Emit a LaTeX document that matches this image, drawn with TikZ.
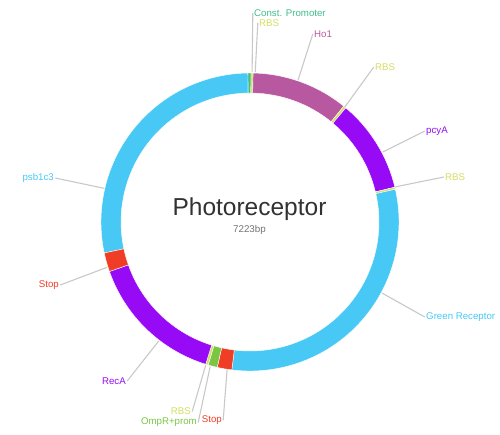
\documentclass[tikz,border=0pt]{standalone}
\usepackage{fontspec}
\setmainfont{Liberation Sans}
\usetikzlibrary{calc}
\definecolor{bbblue}{RGB}{71,200,245}
\definecolor{hopink}{RGB}{184,88,160}
\definecolor{genviolet}{RGB}{150,10,245}
\definecolor{stopred}{RGB}{240,62,38}
\definecolor{ompgreen}{RGB}{122,198,68}
\definecolor{proteal}{RGB}{64,190,140}
\definecolor{rbsyellow}{RGB}{212,222,96}
\definecolor{leadgray}{RGB}{200,200,200}
\definecolor{titlegray}{RGB}{50,50,50}
\def\rout{149}
\def\rin{129}
\def\ringseg[#1](#2:#3){\draw[#1] ($(ctr)+({#2-90}:\rout)$) arc[start angle={#2-90}, end angle={#3-90}, radius=\rout] -- ($(ctr)+({#3-90}:\rin)$) arc[start angle={#3-90}, end angle={#2-90}, radius=\rin] -- cycle;}
\tikzset{
  seg/.style={draw=white, line width=0.4pt},
  leader/.style={draw=leadgray, line width=1.1pt},
  lbl/.style={inner sep=1.2pt, font=\fontsize{9.7}{11}\selectfont}
}

\begin{document}
\begin{tikzpicture}[x=1pt, y=-1pt]
		%%%%% START %%%%%
		\useasboundingbox (0,0) rectangle (500,434);
		\coordinate (ctr) at (250,222);
		
		% ring
		\ringseg[seg, fill=bbblue](258:359.2)
		\ringseg[seg, fill=proteal](359.2:360.4)
		\ringseg[seg, fill=rbsyellow](0.4:1.2)
		\ringseg[seg, fill=hopink](1.2:39)
		\ringseg[seg, fill=rbsyellow](39:40)
		\ringseg[seg, fill=genviolet](40:76.5)
		\ringseg[seg, fill=rbsyellow](76.5:77.3)
		\ringseg[seg, fill=bbblue](77.3:187)
		\ringseg[seg, fill=stopred](187:192.7)
		\ringseg[seg, fill=ompgreen](192.7:196.3)
		\ringseg[seg, fill=rbsyellow](196.3:197.3)
		\ringseg[seg, fill=genviolet](197.3:250.6)
		\ringseg[seg, fill=stopred](250.6:258)
		
		% title
		\node[inner sep=0, anchor=base, text=titlegray, font=\fontsize{24.5}{28}\selectfont] (title) at (249.5,215) {Photoreceptor};
		\node[inner sep=0, anchor=base, text=black!55, font=\fontsize{9.8}{11}\selectfont] (size) at (249.5,232) {7223bp};
		
		% labels, right side
		\node[lbl, text=proteal, anchor=west] (cpro) at (252.8,13) {Const. Promoter};
		\node[lbl, text=rbsyellow, anchor=west] (rbsa) at (257.8,23) {RBS};
		\node[lbl, text=hopink, anchor=west] (hoone) at (312.8,34) {Ho1};
		\node[lbl, text=rbsyellow, anchor=west] (rbsb) at (373.8,67) {RBS};
		\node[lbl, text=genviolet, anchor=west] (pcya) at (424.8,131) {pcyA};
		\node[lbl, text=rbsyellow, anchor=west] (rbsc) at (443.8,177) {RBS};
		\node[lbl, text=bbblue, anchor=west] (grec) at (424.8,317) {Green Receptor};
		
		% labels, left side
		\node[lbl, text=stopred, anchor=east] (stopa) at (223.2,420) {Stop};
		\node[lbl, text=ompgreen, anchor=east] (ompr) at (198.2,422.5) {OmpR+prom};
		\node[lbl, text=rbsyellow, anchor=east] (rbsd) at (192.2,411.5) {RBS};
		\node[lbl, text=genviolet, anchor=east] (reca) at (127.2,381) {RecA};
		\node[lbl, text=stopred, anchor=east] (stopb) at (60.2,285) {Stop};
		\node[lbl, text=bbblue, anchor=east] (psb) at (55.2,178) {psb1c3};
		
		% ends on the ring
		\coordinate (cpro-r) at ($(ctr)+(-89.2:150)$);
		\coordinate (rbsa-r) at ($(ctr)+(-88:150)$);
		\coordinate (hoone-r) at ($(ctr)+(-71.3:150)$);
		\coordinate (rbsb-r) at ($(ctr)+(-50.5:149)$);
		\coordinate (pcya-r) at ($(ctr)+(-27.8:150)$);
		\coordinate (rbsc-r) at ($(ctr)+(-13.6:149)$);
		\coordinate (grec-r) at ($(ctr)+(28.3:150)$);
		\coordinate (stopa-r) at ($(ctr)+(98.8:150)$);
		\coordinate (ompr-r) at ($(ctr)+(105.4:150)$);
		\coordinate (rbsd-r) at ($(ctr)+(107.2:150)$);
		\coordinate (reca-r) at ($(ctr)+(127.5:150)$);
		\coordinate (stopb-r) at ($(ctr)+(162.4:150)$);
		\coordinate (psb-r) at ($(ctr)+(193:150)$);
		
		\draw[leader] (cpro.west) -- (cpro-r);
		\draw[leader] (rbsa.west) -- (rbsa-r);
		\draw[leader] (hoone.west) -- (hoone-r);
		\draw[leader] (rbsb.west) -- (rbsb-r);
		\draw[leader] (pcya.west) -- (pcya-r);
		\draw[leader] (rbsc.west) -- (rbsc-r);
		\draw[leader] (grec.west) -- (grec-r);
		\draw[leader] (stopa.east) -- (stopa-r);
		\draw[leader] (ompr.east) -- (ompr-r);
		\draw[leader] (rbsd.east) -- (rbsd-r);
		\draw[leader] (reca.east) -- (reca-r);
		\draw[leader] (stopb.east) -- (stopb-r);
		\draw[leader] (psb.east) -- (psb-r);
		
		%%%%% END %%%%%
	\end{tikzpicture}
\end{document}
